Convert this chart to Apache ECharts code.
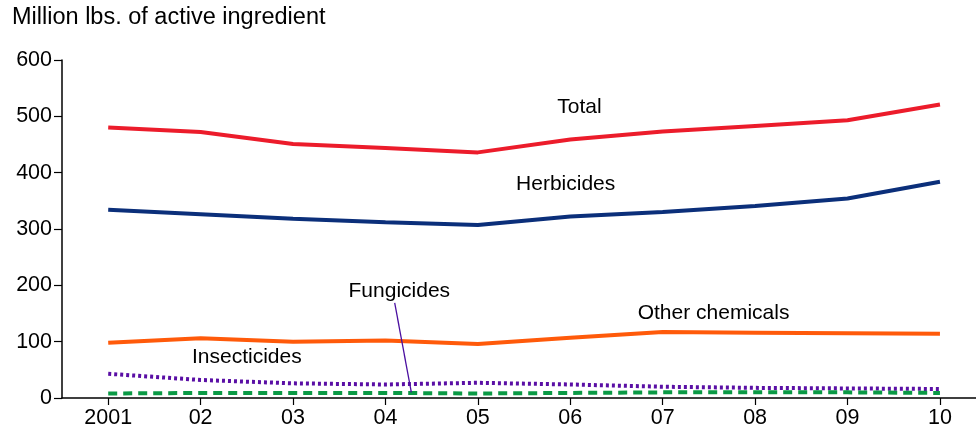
<!DOCTYPE html>
<html>
<head>
<meta charset="utf-8">
<script src="https://cdn.jsdelivr.net/npm/echarts@6/dist/echarts.min.js"></script>
<style>
  html, body { margin: 0; padding: 0; background: #fff; }
  #chart { width: 976px; height: 429px; }
</style>
</head>
<body>
<div id="chart"></div>
<script>
const years = ['2001', '02', '03', '04', '05', '06', '07', '08', '09', '10'];
const total = [480, 472, 451, 444, 436, 459, 473, 483, 493, 521];
const herbicides = [334, 326, 318, 312, 307, 322, 330, 341, 354, 384];
const otherChemicals = [98, 106, 100, 102, 96, 107, 117, 116, 115, 114];
const insecticides = [43, 32, 26, 24, 27, 24, 20, 18, 17, 16];
const fungicides = [8, 9, 9, 9, 8, 9, 10, 10, 10, 9];
const yTicks = [0, 100, 200, 300, 400, 500, 600];

// label anchors in data terms: [year index, value]
const seriesLabels = [
  { text: 'Total', at: [5.1, 516] },
  { text: 'Herbicides', at: [4.95, 379] },
  { text: 'Other chemicals', at: [6.55, 151] },
  { text: 'Insecticides', at: [1.5, 72] },
  { text: 'Fungicides', at: [3.15, 190] }
];
const fungicidePointer = { from: [3.1, 169], to: [3.28, 10] };

const font = 'Liberation Sans, Arial, Helvetica, sans-serif';
const title = 'Million lbs. of active ingredient';

// x is the year index; the axis runs a little past the last year like the original
const idx = years.map((_, i) => i);
const pairs = (vals) => vals.map((v, i) => [i, v]);

const lineSeries = (name, data, color, type) => ({
  name, type: 'line', data: pairs(data),
  symbol: 'none',
  lineStyle: { color, width: 4, type, cap: 'butt' },
  z: 3
});

const chart = echarts.init(document.getElementById('chart'), null, { renderer: 'canvas' });
chart.setOption({
  animation: false,
  grid: { left: 62, right: 0, top: 60, bottom: 30, containLabel: false },
  xAxis: {
    type: 'value',
    min: -0.5,
    max: 9.39,
    axisLine: { show: true, onZero: false, lineStyle: { color: '#000', width: 1.5 } },
    axisTick: { show: true, customValues: idx, length: 7, lineStyle: { color: '#000', width: 1.2 } },
    axisLabel: { customValues: idx, formatter: (v) => years[Math.round(v)], color: '#000', fontSize: 21.5, fontFamily: font, margin: 9 },
    splitLine: { show: false }
  },
  yAxis: {
    type: 'value',
    min: yTicks[0],
    max: yTicks[yTicks.length - 1],
    interval: 100,
    axisLine: { show: true, onZero: false, lineStyle: { color: '#000', width: 1.5 } },
    axisTick: { show: true, length: 8, lineStyle: { color: '#000', width: 1.2 } },
    axisLabel: { color: '#000', fontSize: 21.5, fontFamily: font, margin: 10 },
    splitLine: { show: false }
  },
  series: [
    lineSeries('Total', total, '#ec1c2b', 'solid'),
    lineSeries('Herbicides', herbicides, '#0b2f7a', 'solid'),
    lineSeries('Other chemicals', otherChemicals, '#ff5a0a', 'solid'),
    lineSeries('Insecticides', insecticides, '#5a0fa5', [3, 3]),
    lineSeries('Fungicides', fungicides, '#0a9a45', [9, 6])
  ]
});

const toPx = (at) => chart.convertToPixel({ gridIndex: 0 }, at);

const graphics = [{
  type: 'text', left: 12, top: 6,
  style: { text: title, fontSize: 23.5, fontFamily: font, fill: '#000' }
}];
seriesLabels.forEach((l) => {
  const [x, y] = toPx(l.at);
  graphics.push({
    type: 'text', x, y,
    style: { text: l.text, fontSize: 21, fontFamily: font, fill: '#000', align: 'center', verticalAlign: 'middle' },
    z: 10
  });
});
const a = toPx(fungicidePointer.from);
const b = toPx(fungicidePointer.to);
graphics.push({
  type: 'line',
  shape: { x1: a[0], y1: a[1], x2: b[0], y2: b[1] },
  style: { stroke: '#4a0fa0', lineWidth: 1.3 },
  z: 10
});
chart.setOption({ graphic: graphics });
</script>
</body>
</html>
